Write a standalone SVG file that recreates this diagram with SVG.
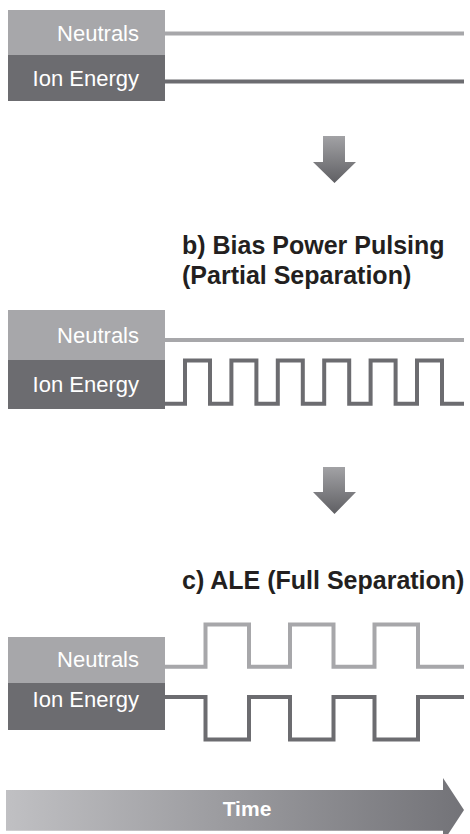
<svg xmlns="http://www.w3.org/2000/svg" width="470" height="834" viewBox="0 0 470 834">
<style>
.nbox{fill:#a7a7aa}
.ibox{fill:#6c6c70}
.lbl{font-family:"Liberation Sans",Arial,sans-serif;font-size:22px;fill:#ffffff;text-anchor:end}
.hd{font-family:"Liberation Sans",Arial,sans-serif;font-size:25px;font-weight:bold;fill:#231f20}
.nw{fill:none;stroke:#a7a7aa;stroke-width:4}
.iw{fill:none;stroke:#6c6c70;stroke-width:4}
</style>
<defs>
<linearGradient id="dg" x1="0" y1="0" x2="0" y2="1">
<stop offset="0" stop-color="#a2a2a5"/>
<stop offset="1" stop-color="#5f5f63"/>
</linearGradient>
<linearGradient id="tg" x1="0" y1="0" x2="1" y2="0">
<stop offset="0" stop-color="#c0c0c3"/>
<stop offset="1" stop-color="#737378"/>
</linearGradient>
</defs>
<rect width="470" height="834" fill="#ffffff"/>

<g id="a-neutrals">
<rect class="nbox" x="8" y="10" width="157" height="45"/>
<text class="lbl" x="139" y="41">Neutrals</text>
</g>
<g id="a-ion">
<rect class="ibox" x="8" y="55" width="157" height="46"/>
<text class="lbl" x="139" y="86">Ion Energy</text>
</g>

<g id="arrow1">
<path d="M323,136 H345 V162 H356 L334.5,183 L313,162 H323 Z" fill="url(#dg)"/>
</g>

<g id="b-heading">
<text class="hd" x="182" y="254">b) Bias Power Pulsing</text>
<text class="hd" x="182" y="284">(Partial Separation)</text>
</g>

<g id="b-neutrals">
<rect class="nbox" x="8" y="310" width="157" height="50"/>
<text class="lbl" x="139" y="343">Neutrals</text>
</g>
<g id="b-ion">
<rect class="ibox" x="8" y="360" width="157" height="49"/>
<text class="lbl" x="139" y="392">Ion Energy</text>
</g>

<g id="arrow2">
<path d="M323,467 H345 V492 H356 L334.5,514 L313,492 H323 Z" fill="url(#dg)"/>
</g>

<g id="c-heading">
<text class="hd" x="182" y="589">c) ALE (Full Separation)</text>
</g>

<g id="c-neutrals">
<rect class="nbox" x="8" y="637" width="157" height="46"/>
<text class="lbl" x="139" y="667">Neutrals</text>
</g>
<g id="c-ion">
<rect class="ibox" x="8" y="683" width="157" height="47"/>
<text class="lbl" x="139" y="707">Ion Energy</text>
</g>

<g id="connectors">
<path class="nw" d="M165,33.5 H464"/>
<path class="iw" d="M165,81.5 H464"/>
<path class="nw" d="M165,340 H464"/>
<path class="iw" d="M165,403.7 H185 V360.5 H210 V403.7 H231.4 V360.5 H256.4 V403.7 H277.8 V360.5 H302.8 V403.7 H324.2 V360.5 H349.2 V403.7 H370.6 V360.5 H395.6 V403.7 H417 V360.5 H442 V403.7 H464"/>
<path class="nw" d="M165,666.7 H205.5 V624.5 H249 V666.7 H290 V624.5 H333.5 V666.7 H374.5 V624.5 H418 V666.7 H464"/>
<path class="iw" d="M165,697 H205.5 V739.5 H249 V697 H290 V739.5 H333.5 V697 H374.5 V739.5 H418 V697 H464"/>
</g>

<g id="time">
<path d="M6,790 H443 V778 L464,810 L443,842 V830.7 H6 Z" fill="url(#tg)"/>
<text x="247" y="816" font-family="'Liberation Sans',Arial,sans-serif" font-size="21" font-weight="bold" fill="#ffffff" text-anchor="middle">Time</text>
</g>
</svg>
